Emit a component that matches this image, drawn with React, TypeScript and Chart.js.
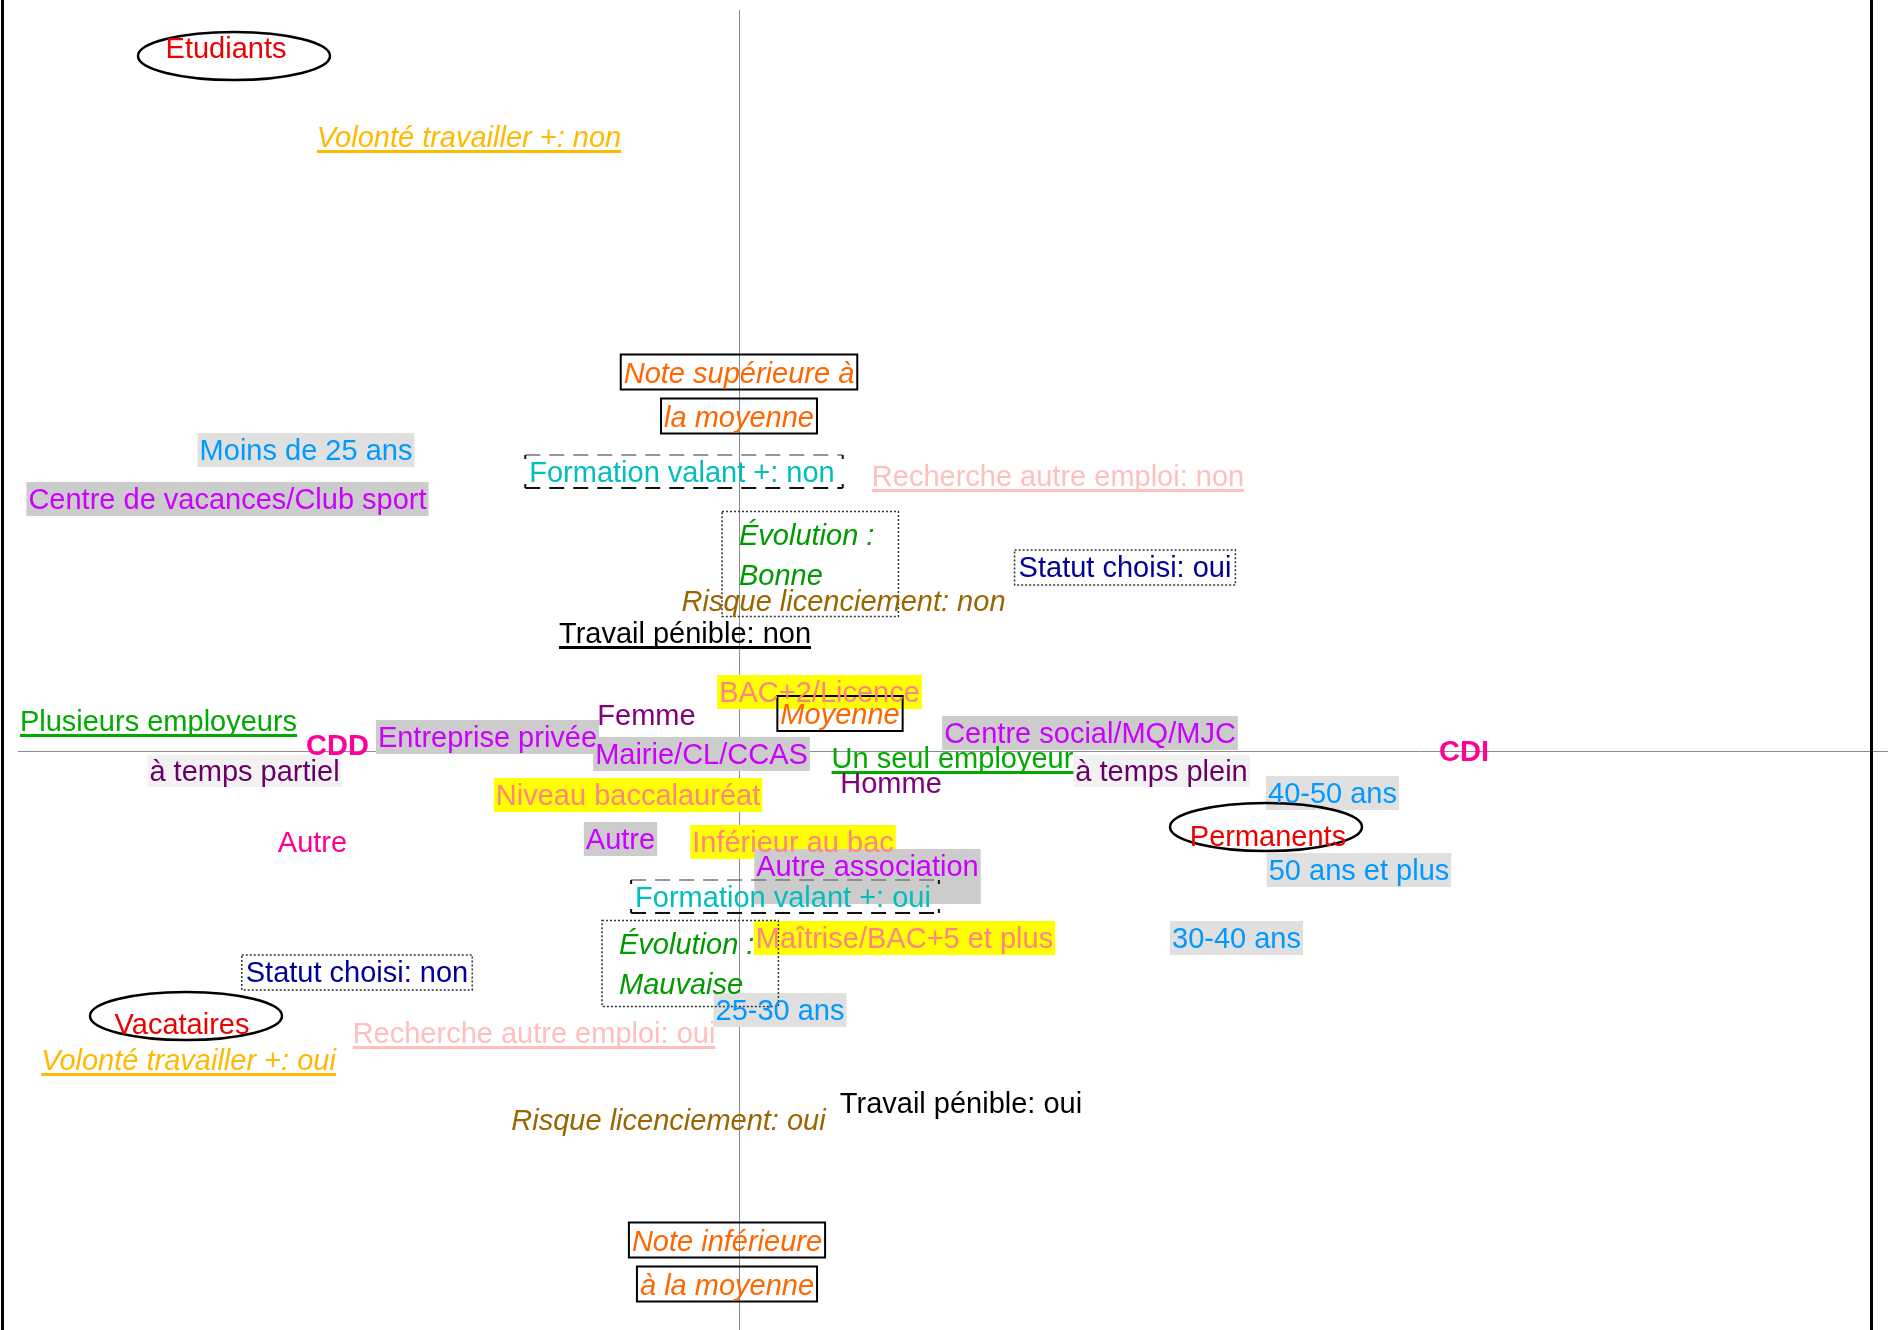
import React, { useEffect, useRef } from 'react';
import { Chart, registerables } from 'chart.js';

Chart.register(...registerables);

// ---- Data: correspondence-analysis modalities (factor 1 / factor 2 coordinates) ----
const labels: string[] = [
  'Etudiants',
  'Volonté travailler +: non',
  'Note supérieure à\nla moyenne',
  'Moins de 25 ans',
  'Centre de vacances/Club sport',
  'Formation valant +: non',
  'Recherche autre emploi: non',
  'Évolution :\nBonne',
  'Statut choisi: oui',
  'Risque licenciement: non',
  'Travail pénible: non',
  'BAC+2/Licence',
  'Moyenne',
  'Femme',
  'Plusieurs employeurs',
  'CDD',
  'Entreprise privée',
  'Mairie/CL/CCAS',
  'Centre social/MQ/MJC',
  'Un seul employeur',
  'à temps partiel',
  'à temps plein',
  'Homme',
  'CDI',
  'Niveau baccalauréat',
  '40-50 ans',
  'Permanents',
  'Autre',
  'Autre',
  'Inférieur au bac',
  'Autre association',
  '50 ans et plus',
  'Formation valant +: oui',
  'Évolution :\nMauvaise',
  'Maîtrise/BAC+5 et plus',
  '30-40 ans',
  'Statut choisi: non',
  'Vacataires',
  'Recherche autre emploi: oui',
  '25-30 ans',
  'Volonté travailler +: oui',
  'Travail pénible: oui',
  'Risque licenciement: oui',
  'Note inférieure\nà la moyenne',
];

const dim1: number[] = [
  -1.026, -0.54, 0.0, -0.866, -1.023, -0.114, 0.638, 0.0, 0.772, 0.209,
  -0.108, 0.161, 0.202, -0.185, -1.161, -0.803, -0.503, -0.075, 0.702, 0.427,
  -0.989, 0.845, 0.304, 1.45, -0.222, 1.187, 1.058, -0.853, -0.237, 0.108,
  0.257, 1.24, 0.088, -0.24, 0.331, 0.995, -0.764, -1.114, -0.41, 0.082,
  -1.101, 0.444, -0.141, -0.024,
];

const dim2: number[] = [
  1.406, 1.228, 0.713, 0.602, 0.504, 0.558, 0.55, 0.393, 0.368, 0.3,
  0.236, 0.118, 0.074, 0.072, 0.06, 0.012, 0.028, -0.006, 0.036, -0.014,
  -0.04, -0.04, -0.064, 0.0, -0.088, -0.084, -0.17, -0.182, -0.176, -0.182,
  -0.23, -0.238, -0.292, -0.425, -0.374, -0.374, -0.442, -0.546, -0.564, -0.518,
  -0.618, -0.704, -0.738, -1.023,
];

const variables: string[] = [
  'statut', 'volonte', 'note', 'age', 'structure', 'formation', 'recherche', 'evolution', 'choisi', 'risque',
  'penible', 'diplome', 'note', 'sexe', 'employeurs', 'contrat', 'structure', 'structure', 'structure', 'employeurs',
  'temps', 'temps', 'sexe', 'contrat', 'diplome', 'age', 'statut', 'contrat', 'structure', 'diplome',
  'structure', 'age', 'formation', 'evolution', 'diplome', 'age', 'choisi', 'statut', 'recherche', 'age',
  'volonte', 'penible', 'risque', 'note',
];

// ---- Styles ----
type Pad = [number, number, number, number]; // top, right, bottom, left
type Style = {
  color: string;
  italic?: boolean;
  bold?: boolean;
  bg?: string;
  bgPad?: Pad;
  underline?: boolean;
  lineBox?: boolean;
  box?: 'dashed' | 'dotted';
  boxPad?: Pad;
  ellipse?: { dx: number; dy: number; rx: number; ry: number };
  align?: 'left' | 'center';
  lineHeight?: number;
};

const FONT_FAMILY = '"Liberation Sans", Arial, Helvetica, sans-serif';
const FONT_SIZE = 29;

const groupStyles: Record<string, Style> = {
  statut: { color: '#EE0000', ellipse: { dx: 0, dy: 0, rx: 96, ry: 24 } },
  volonte: { color: '#FFB900', italic: true, underline: true },
  note: { color: '#FF6600', italic: true, lineBox: true, lineHeight: 44 },
  age: { color: '#0099FF', bg: '#E0E0E0', bgPad: [17, 2, 17, 2] },
  structure: { color: '#CC00FF', bg: '#CCCCCC', bgPad: [17, 2, 17, 2] },
  formation: { color: '#00BEBE', box: 'dashed', boxPad: [17, 8, 16, 4] },
  recherche: { color: '#FFBFBF', underline: true },
  evolution: { color: '#009900', italic: true, box: 'dotted', boxPad: [23, 24, 23, 17], align: 'left', lineHeight: 40 },
  choisi: { color: '#000099', box: 'dotted', boxPad: [17, 4, 18, 4] },
  risque: { color: '#996600', italic: true },
  penible: { color: '#000000' },
  diplome: { color: '#FF8585', bg: '#FFFF00', bgPad: [17, 2, 17, 2] },
  sexe: { color: '#800080' },
  employeurs: { color: '#00AA00', underline: true },
  contrat: { color: '#FF0099', bold: true },
  temps: { color: '#660066', bg: '#F2F2F2', bgPad: [16, 2, 16, 2] },
};

const overrides: Record<string, Partial<Style>> = {
  'statut:Etudiants': { ellipse: { dx: 8, dy: 8, rx: 96, ry: 24 } },
  'statut:Permanents': { ellipse: { dx: -2, dy: -9, rx: 96, ry: 24 } },
  'statut:Vacataires': { ellipse: { dx: 4, dy: -8, rx: 96, ry: 24 } },
  'evolution:Évolution :\nBonne': { boxPad: [23, 24, 42, 17] },
  'structure:Autre association': { bgPad: [17, 2, 38, 2] },
  'penible:Travail pénible: non': { underline: true },
  'contrat:Autre': { bold: false, color: '#FF0090' },
};

const X_MIN = -1.478;
const X_MAX = 2.298;
const Y_MIN = -1.158;
const Y_MAX = 1.502;

function styleFor(i: number): Style {
  const base = groupStyles[variables[i]];
  const ov = overrides[variables[i] + ':' + labels[i]] || {};
  return { ...base, ...ov };
}

function fontFor(st: Style) {
  return `${st.italic ? 'italic ' : ''}${st.bold ? 'bold ' : ''}${FONT_SIZE}px ${FONT_FAMILY}`;
}

const labelPlugin = {
  id: 'caLabels',
  beforeDatasetsDraw(chart: any) {
    const { ctx, scales } = chart;
    const ox = Math.round(scales.x.getPixelForValue(0)) + 0.5;
    const oy = Math.round(scales.y.getPixelForValue(0)) + 0.5;
    ctx.save();
    ctx.strokeStyle = '#8c8c8c';
    ctx.lineWidth = 1;
    ctx.beginPath();
    ctx.moveTo(ox, 10);
    ctx.lineTo(ox, chart.height);
    ctx.stroke();
    ctx.beginPath();
    ctx.moveTo(18, oy);
    ctx.lineTo(chart.width, oy);
    ctx.stroke();
    ctx.strokeStyle = '#000';
    ctx.lineWidth = 3;
    ctx.beginPath();
    ctx.moveTo(2.5, 0);
    ctx.lineTo(2.5, chart.height);
    ctx.stroke();
    ctx.beginPath();
    ctx.moveTo(1871.5, 0);
    ctx.lineTo(1871.5, chart.height);
    ctx.stroke();
    ctx.restore();
  },
  afterDatasetsDraw(chart: any) {
    const { ctx, scales } = chart;
    ctx.save();
    const items = labels.map((lab, i) => {
      const st = styleFor(i);
      ctx.font = fontFor(st);
      const lines = lab.split('\n');
      const widths = lines.map((l) => ctx.measureText(l).width);
      const maxW = Math.max(...widths);
      const px = scales.x.getPixelForValue(dim1[i]);
      const py = scales.y.getPixelForValue(dim2[i]);
      const lh = st.lineHeight ?? 40;
      const cys = lines.map((_, k) => py + (k - (lines.length - 1) / 2) * lh);
      const lefts = widths.map((w) => (st.align === 'left' ? px : px - w / 2));
      const blockLeft = st.align === 'left' ? px : px - maxW / 2;
      return { st, lines, widths, maxW, px, py, cys, lefts, blockLeft };
    });

    // pass 1: backgrounds
    items.forEach((it) => {
      const { st } = it;
      if (!st.bg) return;
      const p = st.bgPad || [17, 2, 17, 2];
      ctx.fillStyle = st.bg;
      it.lines.forEach((_, k) => {
        const l = it.lefts[k] - p[3];
        const t = it.cys[k] - p[0];
        ctx.fillRect(l, t, it.widths[k] + p[1] + p[3], p[0] + p[2]);
      });
    });

    // pass 2: frames and ellipses
    items.forEach((it) => {
      const { st } = it;
      if (st.lineBox) {
        ctx.strokeStyle = '#000';
        ctx.lineWidth = 2;
        ctx.setLineDash([]);
        it.lines.forEach((_, k) => {
          ctx.strokeRect(it.lefts[k] - 3, it.cys[k] - 18, it.widths[k] + 6, 35);
        });
      }
      if (st.box) {
        const p = st.boxPad || [17, 4, 17, 4];
        const l = it.blockLeft - p[3];
        const r = it.blockLeft + it.maxW + p[1];
        const t = it.cys[0] - p[0];
        const b = it.cys[it.cys.length - 1] + p[2];
        if (st.box === 'dashed') {
          ctx.setLineDash([15, 9]);
          ctx.lineWidth = 1.5;
          ctx.strokeStyle = '#777';
          ctx.beginPath();
          ctx.moveTo(l, t);
          ctx.lineTo(r, t);
          ctx.stroke();
          ctx.lineWidth = 2;
          ctx.strokeStyle = '#111';
          ctx.beginPath();
          ctx.moveTo(l, b);
          ctx.lineTo(r, b);
          ctx.stroke();
          ctx.setLineDash([]);
          ctx.beginPath();
          ctx.moveTo(l, t);
          ctx.lineTo(l, t + 4);
          ctx.moveTo(r, t);
          ctx.lineTo(r, t + 4);
          ctx.moveTo(l, b);
          ctx.lineTo(l, b - 4);
          ctx.moveTo(r, b);
          ctx.lineTo(r, b - 4);
          ctx.stroke();
        } else {
          ctx.setLineDash([2, 2]);
          ctx.lineWidth = 1.5;
          ctx.strokeStyle = '#333';
          ctx.strokeRect(l, t, r - l, b - t);
          ctx.setLineDash([]);
        }
      }
      if (st.ellipse) {
        const e = st.ellipse;
        ctx.setLineDash([]);
        ctx.strokeStyle = '#000';
        ctx.lineWidth = 2.5;
        ctx.beginPath();
        ctx.ellipse(it.px + e.dx, it.py + e.dy, e.rx, e.ry, 0, 0, Math.PI * 2);
        ctx.stroke();
      }
    });

    // pass 3: text and underlines
    ctx.textBaseline = 'alphabetic';
    ctx.textAlign = 'left';
    items.forEach((it) => {
      const { st } = it;
      ctx.font = fontFor(st);
      ctx.fillStyle = st.color;
      it.lines.forEach((line, k) => {
        const base = it.cys[k] + 10;
        ctx.fillText(line, it.lefts[k], base);
        if (st.underline) {
          ctx.fillRect(it.lefts[k], it.cys[k] + 13, it.widths[k], 3);
        }
      });
    });
    ctx.restore();
  },
};

export default function App() {
  const ref = useRef<HTMLCanvasElement>(null);
  useEffect(() => {
    document.body.style.margin = '0';
    const canvas = ref.current;
    if (!canvas) return;
    const chart = new Chart(canvas, {
      type: 'scatter',
      data: {
        datasets: [
          {
            label: 'Modalités',
            data: labels.map((_, i) => ({ x: dim1[i], y: dim2[i] })),
            pointRadius: 0,
            pointHoverRadius: 0,
            showLine: false,
          },
        ],
      },
      options: {
        animation: false,
        responsive: false,
        devicePixelRatio: 1,
        layout: { padding: 0 },
        events: [],
        plugins: {
          legend: { display: false },
          tooltip: { enabled: false },
          title: { display: false },
        },
        scales: {
          x: { type: 'linear', min: X_MIN, max: X_MAX, display: false },
          y: { type: 'linear', min: Y_MIN, max: Y_MAX, display: false },
        },
      },
      plugins: [labelPlugin],
    });
    return () => chart.destroy();
  }, []);
  return (
    <div style={{ width: 1888, height: 1330, background: '#fff' }}>
      <canvas ref={ref} width={1888} height={1330} style={{ display: 'block' }} />
    </div>
  );
}
